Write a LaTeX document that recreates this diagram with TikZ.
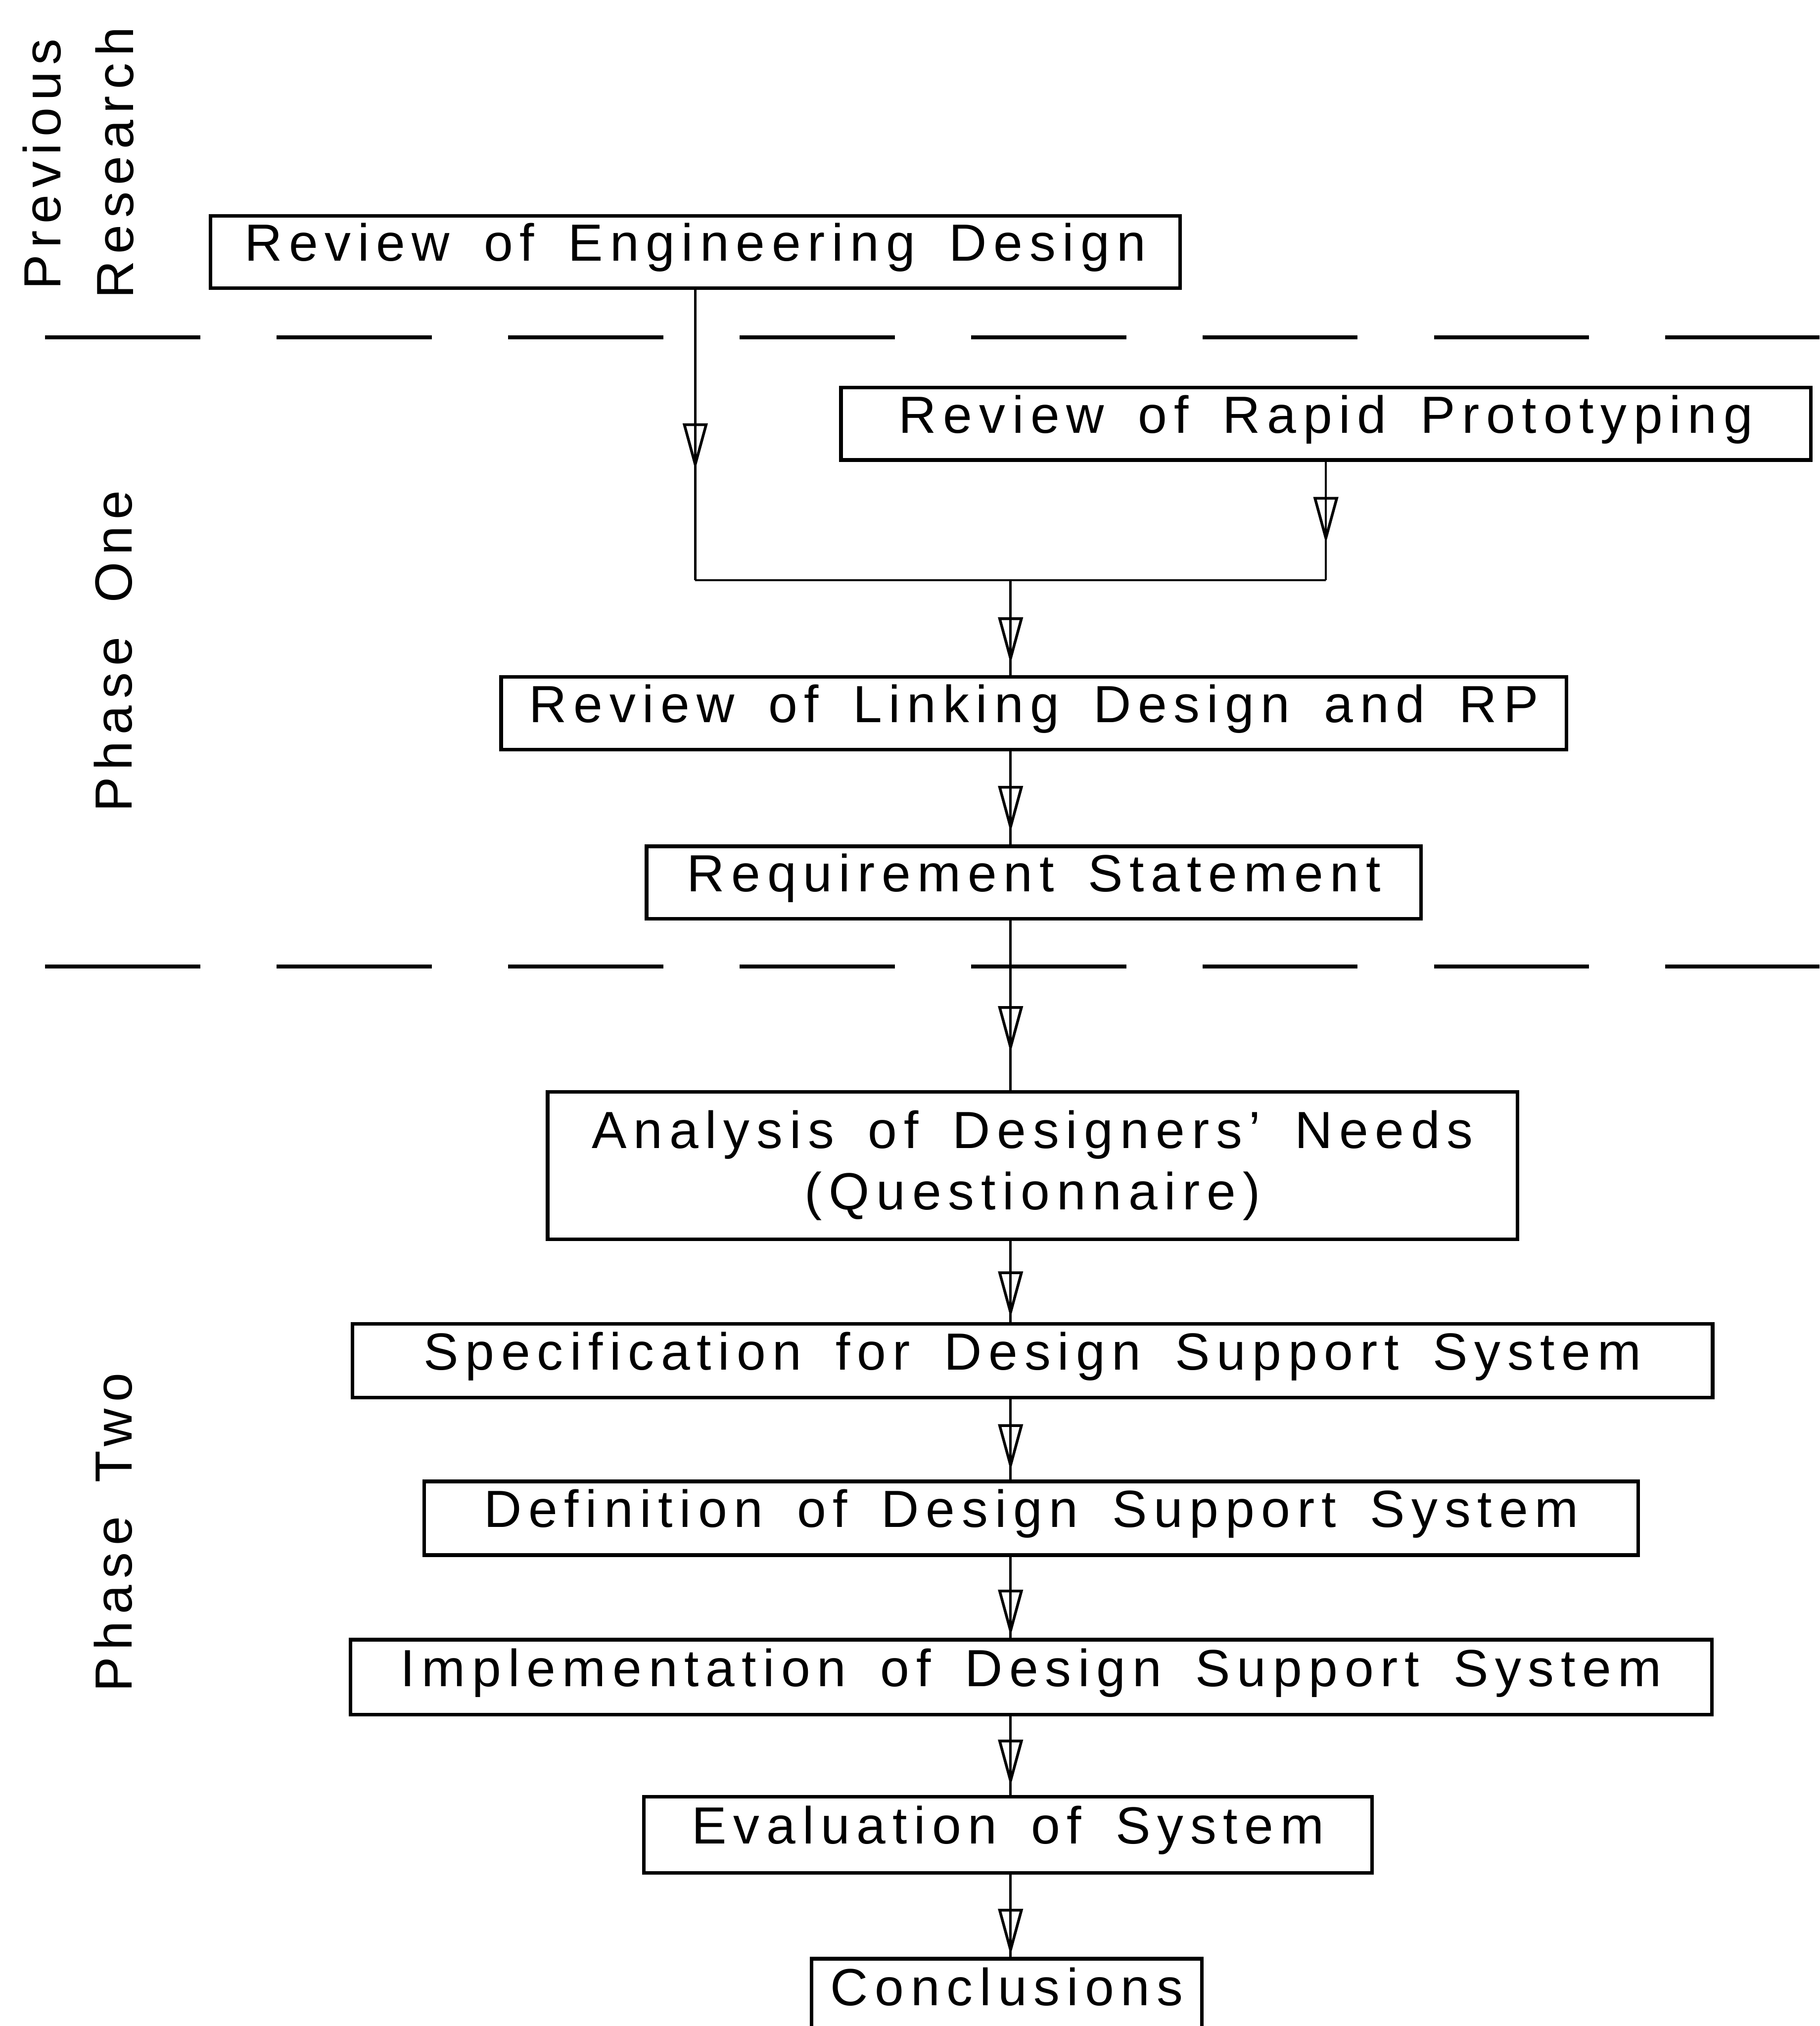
\documentclass[tikz,border=0pt]{standalone}
\usepackage{fontspec}
\setmainfont{Liberation Sans}[LetterSpace=13, WordSpace=1.6]
\usetikzlibrary{arrows.meta,decorations.markings}

\tikzset{
  stage/.style={draw, line width=0.8pt, inner xsep=0pt, inner ysep=0pt,
    minimum height=0.56cm, text height=0.75em, text depth=0.35em,
    font=\fontsize{11.5pt}{13.5pt}\selectfont},
  phase/.style={rotate=90, anchor=base, inner sep=0pt,
    font=\fontsize{11.5pt}{13.5pt}\selectfont},
  flow/.style={line width=0.5pt, postaction={decorate},
    decoration={markings, mark=at position #1 with
      {\arrow[line width=0.6pt]{Triangle[open, width=0.19cm, length=0.36cm]}}}},
  phaseline/.style={line width=0.9pt, dash pattern=on 1.2cm off 0.59cm}
}

\begin{document}
\begin{tikzpicture}[x=0.01cm, y=0.01cm]
  \useasboundingbox (0,0) rectangle (1408,-1568);
  \clip (0,0) rectangle (1408,-1568);

  \node[phase] (prev) at (47,-127) {Previous};
  \node[phase] (res) at (103,-126) {Research};
  \node[phase] (one) at (102,-504) {Phase One};
  \node[phase] (two) at (102,-1186) {Phase Two};

  \foreach \y in {-261,-748}{
    \draw[phaseline] (35,\y) -- (1408,\y);
  }

  \node[stage, minimum width=7.5cm] (eng) at (538,-195) {Review of Engineering Design};
  \node[stage, minimum width=7.5cm] (rap) at (1026,-328) {Review of Rapid Prototyping};
  \node[stage, minimum width=8.24cm] (link) at (800,-552) {Review of Linking Design and RP};
  \node[stage, minimum width=5.99cm] (req) at (800,-683) {Requirement Statement};
  \node[stage, minimum width=7.5cm, minimum height=1.14cm, align=center,
    text height={}, text depth={}] (anl) at (799,-902) {Analysis of Designers' Needs\\(Questionnaire)};
  \node[stage, minimum width=10.52cm, minimum height=0.57cm] (spec) at (799,-1053) {Specification for Design Support System};
  \node[stage, minimum width=9.39cm, minimum height=0.57cm] (defn) at (798,-1175) {Definition of Design Support System};
  \node[stage, minimum width=10.53cm, minimum height=0.58cm] (impl) at (798,-1298) {Implementation of Design Support System};
  \node[stage, minimum width=5.63cm, minimum height=0.59cm] (eval) at (780,-1420) {Evaluation of System};
  \node[stage, minimum width=3.02cm, minimum height=0.58cm] (concl) at (779,-1545) {Conclusions};

  \coordinate (join) at (782,-449);
  \draw[flow=0.62] (eng.south) -- (eng.south |- join);
  \draw[flow=0.69] (rap.south) -- (rap.south |- join);
  \draw[line width=0.5pt] (eng.south |- join) -- (rap.south |- join);
  \draw[flow=0.88] (join) -- (join |- link.north);

  \foreach \a/\b/\p in {link/req/0.87, req/anl/0.78, anl/spec/0.95, spec/defn/0.89,
      defn/impl/0.98, impl/eval/0.89, eval/concl/0.98}{
    \draw[flow=\p] (\a.south -| join) -- (\b.north -| join);
  }
\end{tikzpicture}
\end{document}
